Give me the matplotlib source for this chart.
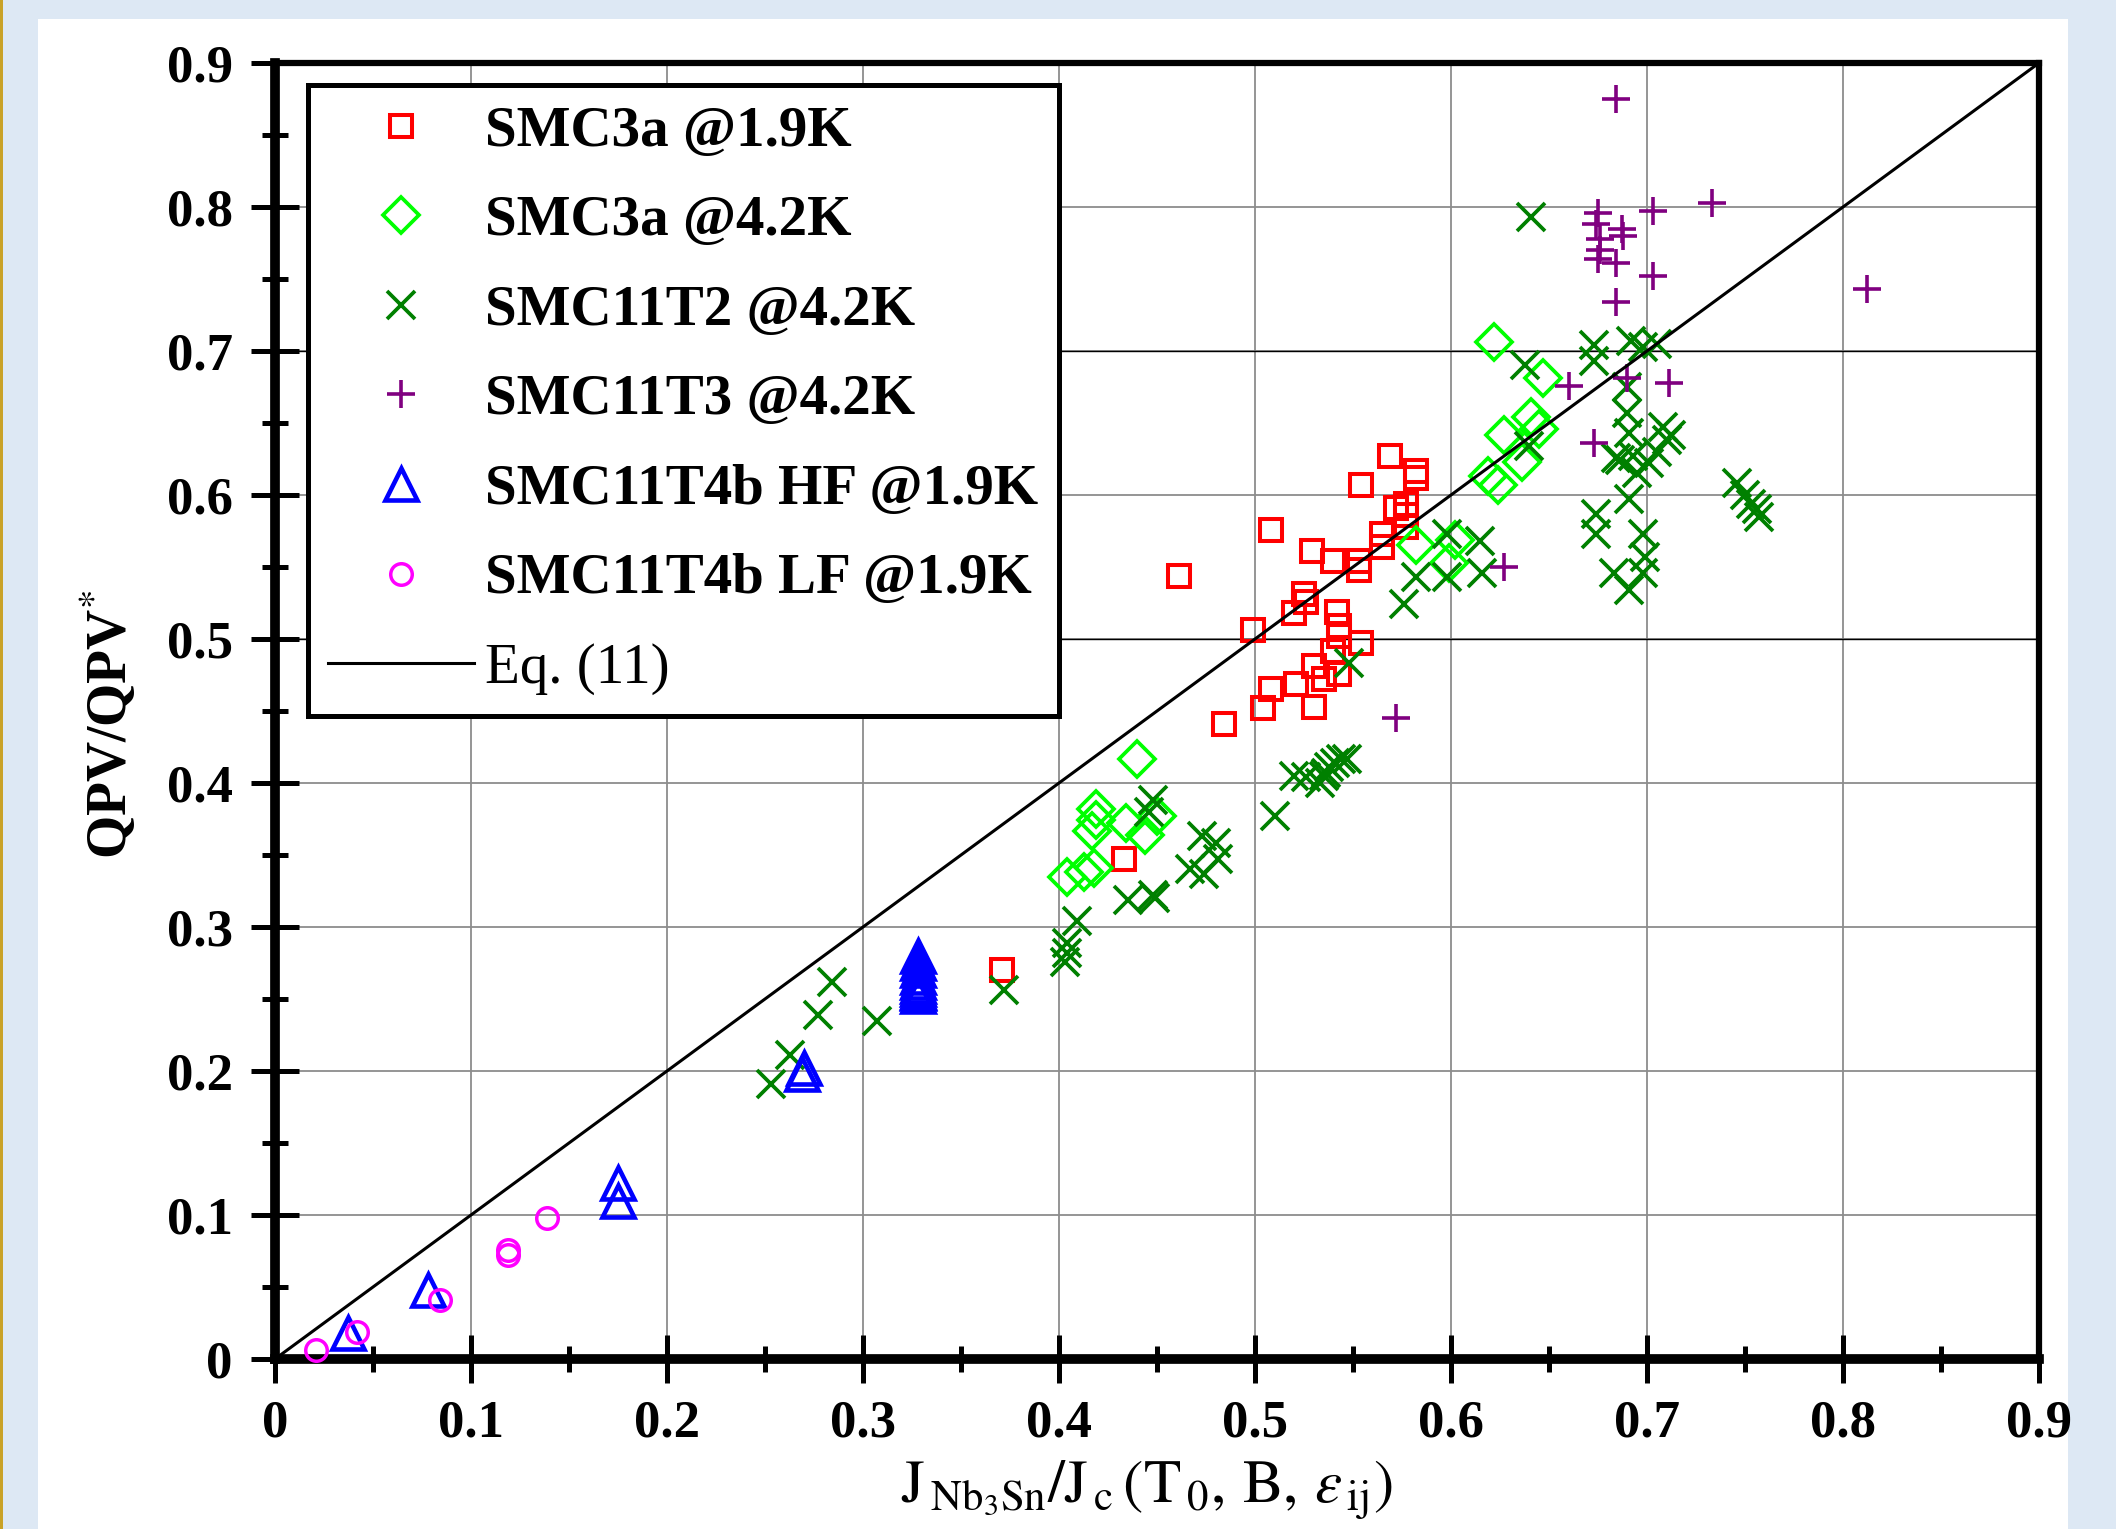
import numpy as np
import matplotlib
matplotlib.use("Agg")
import matplotlib.pyplot as plt
from matplotlib.patches import Rectangle
from matplotlib.ticker import MultipleLocator

plt.rcParams['font.family'] = ['Liberation Serif', 'DejaVu Serif']
plt.rcParams['mathtext.fontset'] = 'stix'

# SMC3a @1.9K
smc3a_19_x = [0.461, 0.508, 0.569, 0.554, 0.582, 0.582, 0.529, 0.540, 0.553, 0.553,
              0.565, 0.572, 0.577, 0.577, 0.577, 0.565, 0.499, 0.525, 0.520, 0.526,
              0.542, 0.543, 0.543, 0.554, 0.540, 0.530, 0.521, 0.535, 0.543, 0.508,
              0.504, 0.530, 0.484, 0.433, 0.371]
smc3a_19_y = [0.544, 0.576, 0.627, 0.607, 0.617, 0.612, 0.561, 0.554, 0.554, 0.548,
              0.573, 0.591, 0.594, 0.586, 0.578, 0.564, 0.506, 0.531, 0.518, 0.526,
              0.519, 0.509, 0.502, 0.497, 0.492, 0.481, 0.469, 0.472, 0.476, 0.465,
              0.452, 0.453, 0.441, 0.347, 0.270]

# SMC3a @4.2K
smc3a_42_x = [0.622, 0.647, 0.641, 0.645, 0.627, 0.636, 0.619, 0.624, 0.582, 0.602,
              0.599, 0.440, 0.419, 0.419, 0.434, 0.450, 0.444, 0.417, 0.404, 0.413,
              0.418]
smc3a_42_y = [0.706, 0.681, 0.654, 0.646, 0.642, 0.623, 0.613, 0.607, 0.565, 0.569,
              0.553, 0.417, 0.382, 0.374, 0.372, 0.377, 0.364, 0.367, 0.335, 0.338,
              0.341]

# SMC11T2 @4.2K
smc11t2_x = [0.253, 0.263, 0.277, 0.284, 0.307, 0.372, 0.403, 0.404, 0.404, 0.409,
             0.435, 0.448, 0.449, 0.448, 0.446, 0.467, 0.474, 0.473, 0.480, 0.481,
             0.510, 0.520, 0.526, 0.533, 0.535, 0.536, 0.538, 0.541, 0.544, 0.547,
             0.548, 0.576, 0.582, 0.598, 0.598, 0.615, 0.616, 0.640, 0.638, 0.641,
             0.673, 0.673, 0.692, 0.698, 0.705, 0.690, 0.690, 0.691, 0.708, 0.710,
             0.686, 0.693, 0.701, 0.684, 0.695, 0.705, 0.712, 0.674, 0.674, 0.691,
             0.698, 0.699, 0.683, 0.691, 0.698,
             0.746, 0.750, 0.753, 0.756, 0.757]
smc11t2_y = [0.191, 0.211, 0.239, 0.262, 0.235, 0.256, 0.276, 0.282, 0.289, 0.304,
             0.319, 0.322, 0.320, 0.388, 0.380, 0.340, 0.337, 0.363, 0.358, 0.347,
             0.377, 0.405, 0.404, 0.400, 0.405, 0.407, 0.411, 0.414, 0.417, 0.417,
             0.483, 0.524, 0.543, 0.573, 0.543, 0.568, 0.546, 0.634, 0.690, 0.793,
             0.704, 0.693, 0.707, 0.703, 0.705, 0.675, 0.657, 0.643, 0.647, 0.638,
             0.624, 0.627, 0.622, 0.626, 0.615, 0.630, 0.642, 0.587, 0.573, 0.597,
             0.573, 0.557, 0.546, 0.534, 0.546,
             0.608, 0.600, 0.594, 0.590, 0.585]

# SMC11T3 @4.2K
smc11t3_x = [0.684, 0.675, 0.674, 0.676, 0.687, 0.688, 0.676, 0.675, 0.684, 0.684,
             0.703, 0.733, 0.703, 0.812, 0.660, 0.690, 0.711, 0.673, 0.627, 0.572]
smc11t3_y = [0.875, 0.796, 0.788, 0.778, 0.785, 0.780, 0.770, 0.764, 0.761, 0.734,
             0.797, 0.803, 0.752, 0.743, 0.676, 0.681, 0.678, 0.636, 0.550, 0.445]

# SMC11T4b HF @1.9K
hf_x = [0.037, 0.078, 0.175, 0.175, 0.270, 0.269, 0.328, 0.328, 0.328, 0.328,
        0.328, 0.328, 0.328, 0.328, 0.328, 0.328]
hf_y = [0.018, 0.048, 0.122, 0.110, 0.202, 0.198, 0.280, 0.275, 0.270, 0.265,
        0.262, 0.259, 0.257, 0.255, 0.254, 0.252]

# SMC11T4b LF @1.9K
lf_x = [0.021, 0.042, 0.084, 0.119, 0.119, 0.139]
lf_y = [0.006, 0.019, 0.041, 0.076, 0.072, 0.098]

# Eq. (11)
eq11_x = [0.0, 0.9]
eq11_y = [0.0, 0.9]

tick_vals = [0.0, 0.1, 0.2, 0.3, 0.4, 0.5, 0.6, 0.7, 0.8, 0.9]
tick_labels = ['0', '0.1', '0.2', '0.3', '0.4', '0.5', '0.6', '0.7', '0.8', '0.9']

W, H = 2116, 1529
fig = plt.figure(figsize=(W / 100, H / 100), dpi=100, facecolor='#dde8f4')
fig.add_artist(Rectangle((38 / W, 0), (2068 - 38) / W, (H - 19) / H,
                         transform=fig.transFigure, facecolor='white',
                         edgecolor='none', zorder=-5))
fig.add_artist(Rectangle((0, 0), 3 / W, 1, transform=fig.transFigure,
                         facecolor='#c9a227', edgecolor='none', zorder=-4))

ax = fig.add_axes([275 / W, 170 / H, (2039 - 275) / W, (1359 - 63) / H])
ax.set_xlim(0, 0.9)
ax.set_ylim(0, 0.9)

series = [
    (smc3a_19_x, smc3a_19_y, 's', 15.5, 2.9, '#ff0000', 'SMC3a @1.9K'),
    (smc3a_42_x, smc3a_42_y, 'D', 18, 2.7, '#00ff00', 'SMC3a @4.2K'),
    (smc11t2_x, smc11t2_y, 'x', 20, 2.7, '#008000', 'SMC11T2 @4.2K'),
    (smc11t3_x, smc11t3_y, '+', 20, 2.6, '#800080', 'SMC11T3 @4.2K'),
    (hf_x, hf_y, '^', 23, 3.3, '#0000ff', 'SMC11T4b HF @1.9K'),
    (lf_x, lf_y, 'o', 15.5, 2.5, '#ff00ff', 'SMC11T4b LF @1.9K'),
]
handles = []
for xs, ys, mk, ms, mew, col, lab in series:
    h, = ax.plot(xs, ys, linestyle='none', marker=mk, markersize=ms,
                 markeredgewidth=mew, markeredgecolor=col,
                 markerfacecolor='none', label=lab, zorder=3, clip_on=False)
    handles.append(h)

eq, = ax.plot(eq11_x, eq11_y, color='black', lw=2.2, zorder=4, label='Eq. (11)')
handles.append(eq)

# grid: gray, with the 0.5 / 0.7 lines darker
ax.set_axisbelow(True)
ax.grid(which='major', color='#8c8c8c', lw=1.3)
for yv in (0.5, 0.7):
    ax.axhline(yv, color='black', lw=1.0, zorder=1)

ax.set_xticks(tick_vals)
ax.set_yticks(tick_vals)
ax.set_xticklabels(tick_labels)
ax.set_yticklabels(tick_labels)
ax.xaxis.set_minor_locator(MultipleLocator(0.05))
ax.yaxis.set_minor_locator(MultipleLocator(0.05))
ax.tick_params(which='major', direction='inout', length=35, width=3.6,
               labelsize=38)
ax.tick_params(axis='x', which='major', pad=12)
ax.tick_params(axis='y', which='major', pad=13)
ax.tick_params(which='minor', direction='inout', length=19, width=3.6)
for lbl in ax.get_xticklabels() + ax.get_yticklabels():
    lbl.set_fontweight('bold')

for side in ('left', 'bottom'):
    ax.spines[side].set_linewidth(7)
for side in ('top', 'right'):
    ax.spines[side].set_linewidth(4.5)

ax.set_xlabel(r'$\mathrm{J}_{\,\mathrm{Nb_3Sn}}/\mathrm{J}_{\,\mathrm{c}}\,'
              r'(\mathrm{T}_{\,0},\,\mathrm{B},\,\varepsilon_{\,\mathrm{ij}})$',
              fontsize=44)
ax.xaxis.label.set_va('bottom')
ax.xaxis.set_label_coords(0.494, -0.126)
ax.set_ylabel(r'QPV/QPV$^{*}$', fontsize=40, fontweight='bold')
ax.yaxis.set_label_coords(-0.077, 0.49)

leg = ax.legend(handles=handles, loc='upper left', bbox_to_anchor=(0.0187, 0.983),
                borderaxespad=0, prop={'size': 41, 'weight': 'bold'},
                handlelength=2.55, handletextpad=0.2, borderpad=0.36,
                labelspacing=0.66, fancybox=False, framealpha=1,
                edgecolor='black')
leg.get_frame().set_linewidth(3.6)
leg.get_texts()[-1].set_fontweight('normal')
leg.set_zorder(10)

fig.savefig('out.png', dpi=100, facecolor=fig.get_facecolor())
